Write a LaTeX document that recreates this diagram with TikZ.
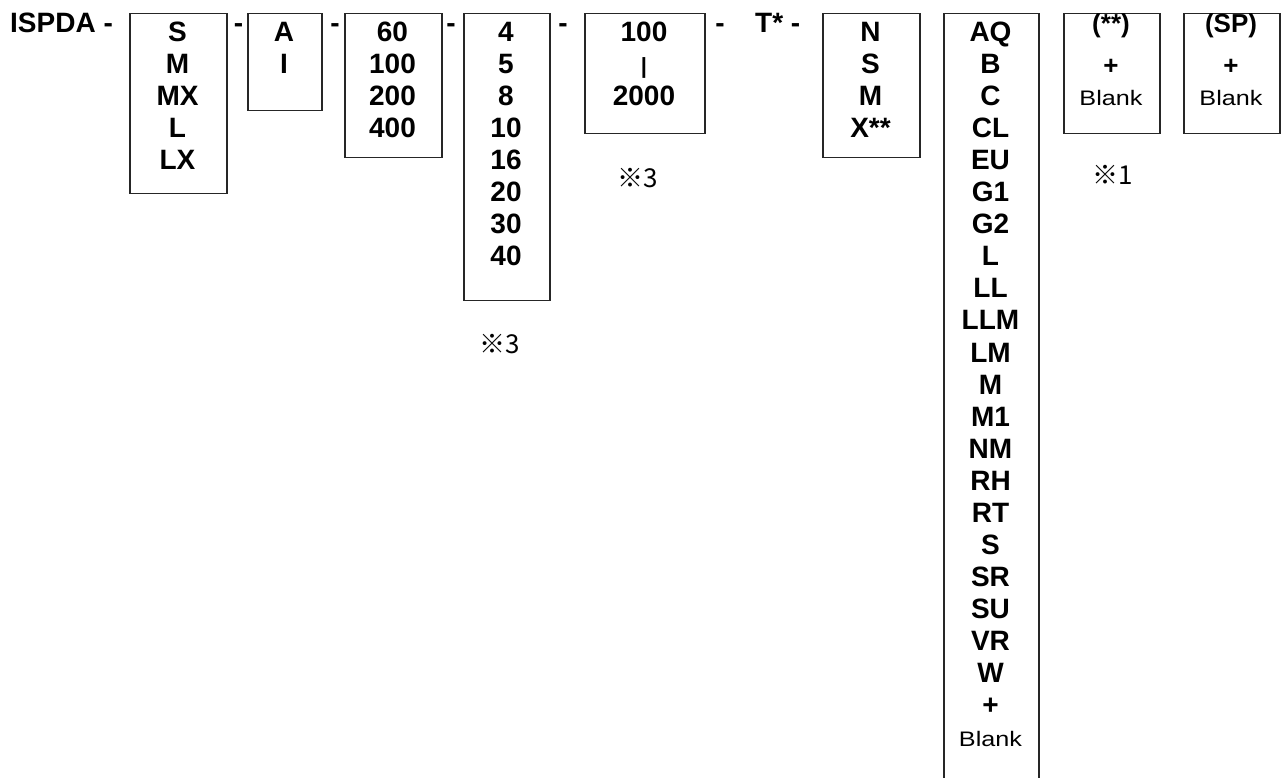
\documentclass[tikz,border=0pt]{standalone}
\usepackage{fontspec}
\setmainfont{Liberation Sans}
\newfontfamily\cjkfont{Noto Sans CJK JP}
\newfontfamily\widefont[FakeStretch=1.2]{Liberation Sans}
\begin{document}
\begin{tikzpicture}[x=1pt,y=-1pt,
  box/.style={draw=black!85, line width=1.5pt, inner sep=0pt, anchor=north west},
  big/.style={font=\bfseries\fontsize{28}{32}\selectfont, inner sep=0pt, anchor=base},
  mid/.style={font=\bfseries\fontsize{26}{30}\selectfont, inner sep=0pt, anchor=base},
  small/.style={font=\widefont\fontsize{21}{25}\selectfont, inner sep=0pt, anchor=base},
  note/.style={font=\cjkfont\fontsize{26}{30}\selectfont, inner sep=0pt, anchor=base},
  dashmark/.style={font=\bfseries\fontsize{28}{32}\selectfont, inner sep=0pt, anchor=base}]
\useasboundingbox (0,0) rectangle (1286,778);
\clip (0,0) rectangle (1286,778);
\fill[white] (0,0) rectangle (1286,778);

% prefix
\node[big, anchor=base west] (isp) at (10,33) {ISPDA -};

% boxes
\node[box, minimum width=97pt, minimum height=180pt] (bS) at (129,13) {};
\node[box, minimum width=74pt, minimum height=97pt] (bA) at (247,13) {};
\node[box, minimum width=97pt, minimum height=144pt] (b60) at (344,13) {};
\node[box, minimum width=86pt, minimum height=287pt] (b4) at (463,13) {};
\node[box, minimum width=120pt, minimum height=120pt] (b100) at (584,13) {};
\node[box, minimum width=97pt, minimum height=144pt] (bN) at (822,13) {};
\node[box, minimum width=95pt, minimum height=790pt] (bAQ) at (943,13) {};
\node[box, minimum width=96pt, minimum height=120pt] (bST) at (1063,13) {};
\node[box, minimum width=96pt, minimum height=120pt] (bSP) at (1183,13) {};

% dashes
\node[dashmark] (d1) at (238.5,33) {-};
\node[dashmark] (d2) at (335,33) {-};
\node[dashmark] (d3) at (451,33) {-};
\node[dashmark] (d4) at (563,33) {-};
\node[dashmark] (d5) at (720,33) {-};
\node[big, anchor=base west] (tst) at (755,33) {T* -};

% box contents
\foreach \t [count=\i from 0] in {S,M,MX,L,LX}
  \node[big] (s\i) at (177.5,{42+32*\i}) {\t};
\foreach \t [count=\i from 0] in {A,I}
  \node[big] (a\i) at (284,{42+32*\i}) {\t};
\foreach \t [count=\i from 0] in {60,100,200,400}
  \node[big] (c\i) at (392.5,{42+32*\i}) {\t};
\foreach \t [count=\i from 0] in {4,5,8,10,16,20,30,40}
  \node[big] (f\i) at (506,{42+32*\i}) {\t};
\node[big] (h0) at (644,42) {100};
\node[big, font=\bfseries\fontsize{22}{26}\selectfont] (h1) at (644,74) {|};
\node[big] (h2) at (644,106) {2000};
\foreach \t [count=\i from 0] in {N,S,M,X**}
  \node[big] (n\i) at (870.5,{42+32*\i}) {\t};
\foreach \t [count=\i from 0] in {AQ,B,C,CL,EU,G1,G2,L,LL,LLM,LM,M,M1,NM,RH,RT,S,SR,SU,VR,W,+}
  \node[big] (q\i) at (990.5,{42+32*\i}) {\t};
\node[small] (qb) at (990.5,746) {Blank};

\node[mid] (st0) at (1111,33) {(**)};
\node[mid] (st1) at (1111,75) {+};
\node[small] (st2) at (1111,106) {Blank};
\node[mid] (sp0) at (1231,33) {(SP)};
\node[mid] (sp1) at (1231,75) {+};
\node[small] (sp2) at (1231,106) {Blank};

% notes
\node[note] (m1) at (637.5,188) {※3};
\node[note] (m2) at (500,353) {※3};
\node[note] (m3) at (1112.5,185) {※1};
\end{tikzpicture}
\end{document}
